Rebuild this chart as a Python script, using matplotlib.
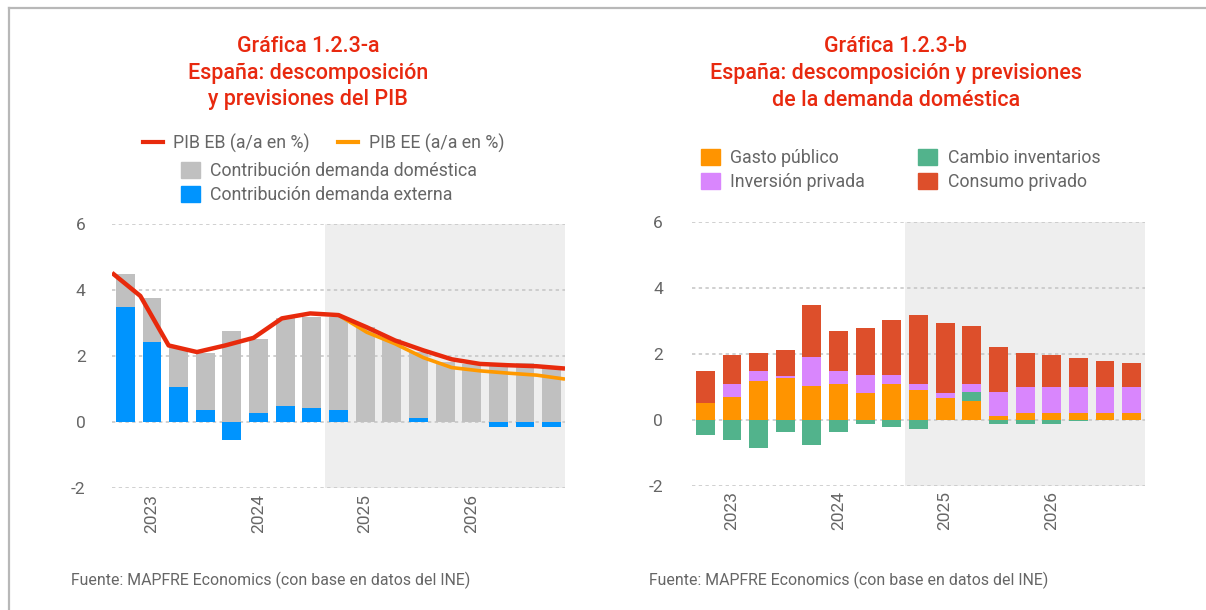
import matplotlib
matplotlib.use("Agg")
import matplotlib.pyplot as plt
from matplotlib.lines import Line2D
from matplotlib.patches import Patch
import numpy as np

plt.rcParams['font.family'] = ['Roboto', 'DejaVu Sans']

# ---------------- data ----------------
quarters = ["2022T4", "2023T1", "2023T2", "2023T3", "2023T4", "2024T1", "2024T2", "2024T3",
            "2024T4", "2025T1", "2025T2", "2025T3", "2025T4", "2026T1", "2026T2", "2026T3", "2026T4"]
year_ticks = ["2023", "2024", "2025", "2026"]
year_tick_quarters = ["2023T1", "2024T1", "2025T1", "2026T1"]
forecast_start = "2024T4"

# Chart a
dem_domestica = [1.02, 1.35, 1.17, 1.74, 2.75, 2.25, 2.64, 2.78, 2.82, 2.87, 2.52, 2.01, 1.82, 1.75, 1.72, 1.78, 1.66]
dem_externa = [3.47, 2.42, 1.07, 0.35, -0.55, 0.26, 0.50, 0.41, 0.35, 0.0, 0.0, 0.11, 0.0, 0.0, -0.15, -0.15, -0.15]
pib_eb = [4.52, 3.82, 2.32, 2.12, 2.32, 2.55, 3.14, 3.29, 3.24, 2.87, 2.47, 2.17, 1.90, 1.76, 1.72, 1.69, 1.62]
pib_ee = [np.nan] * 8 + [3.24, 2.72, 2.37, 1.95, 1.65, 1.55, 1.48, 1.42, 1.30]

# Chart b
gasto_publico = [0.52, 0.68, 1.17, 1.25, 1.01, 1.07, 0.82, 1.07, 0.91, 0.67, 0.58, 0.10, 0.19, 0.19, 0.19, 0.19, 0.19]
cambio_inventarios = [-0.46, -0.62, -0.86, -0.38, -0.77, -0.38, -0.14, -0.23, -0.29, 0.0, 0.27, -0.14, -0.14, -0.14, -0.05, 0.0, 0.0]
inversion_privada = [0.0, 0.39, 0.32, 0.07, 0.88, 0.42, 0.52, 0.27, 0.16, 0.15, 0.24, 0.75, 0.81, 0.81, 0.81, 0.81, 0.81]
consumo_privado = [0.97, 0.90, 0.54, 0.80, 1.59, 1.20, 1.44, 1.68, 2.11, 2.11, 1.74, 1.36, 1.03, 0.97, 0.88, 0.79, 0.73]

# ---------------- style ----------------
RED_T = "#e8290f"
GRAY_T = "#666666"
C_DOM = "#c0c0c0"
C_EXT = "#0094fe"
C_EB = "#e82a0c"
C_EE = "#ff9900"
C_GASTO = "#ff9400"
C_INV = "#d986fd"
C_CAMB = "#52b38c"
C_CONS = "#dd4f2b"
SHADE = "#eeeeee"

W, H = 1206, 610
fig = plt.figure(figsize=(W / 100, H / 100), dpi=100)


def fx(px):
    return px / W


def fy(py):
    return 1 - py / H


# border lines
fig.add_artist(Line2D([fx(9), fx(9)], [fy(8), 0], color="#b8b8b8", lw=1.6))
fig.add_artist(Line2D([fx(9), 1], [fy(8), fy(8)], color="#b8b8b8", lw=1.6))

x = np.arange(len(quarters))
bw = 0.71
fs_idx = quarters.index(forecast_start)
tick_pos = [quarters.index(q) for q in year_tick_quarters]


def style_axes(ax, ypad):
    ax.set_xlim(-0.5, len(quarters) - 0.5)
    ax.set_ylim(-2, 6)
    ax.set_yticks([-2, 0, 2, 4, 6])
    ax.set_yticklabels(["-2", "0", "2", "4", "6"])
    ax.set_xticks(tick_pos)
    ax.set_xticklabels(year_ticks, rotation=90, va="top")
    for s in ax.spines.values():
        s.set_visible(False)
    ax.tick_params(length=0, labelsize=12.5, colors=GRAY_T)
    ax.tick_params(axis="y", pad=ypad)
    ax.tick_params(axis="x", pad=4)
    ax.set_axisbelow(True)
    ax.yaxis.grid(True, color="#c4c4c4", linestyle=(0, (2.2, 2.2)), linewidth=1.1, zorder=0.5)
    ax.axvspan(fs_idx - 0.5, len(quarters) - 0.5, color=SHADE, zorder=0, lw=0)


TFS = 15.5
LFS = 12.8

# ---------------- chart a ----------------
axa = fig.add_axes([fx(112), fy(488), fx(565 - 112), fy(224) - fy(488)])
style_axes(axa, 19)
dom = np.array(dem_domestica)
ext = np.array(dem_externa)
bottom_dom = np.where(ext > 0, ext, 0)
axa.bar(x, ext, width=bw, color=C_EXT, zorder=2)
axa.bar(x, dom, bottom=bottom_dom, width=bw, color=C_DOM, zorder=2)

axl = axa.twiny()
axl.set_xlim(0, len(quarters) - 1)
axl.set_ylim(-2, 6)
axl.axis("off")
axl.plot(np.arange(len(quarters)), pib_ee, color=C_EE, lw=2.6, zorder=3, solid_capstyle="butt")
axl.plot(np.arange(len(quarters)), pib_eb, color=C_EB, lw=3.2, zorder=4, solid_capstyle="butt")

for i, t in enumerate(["Gráfica 1.2.3-a", "España: descomposición", "y previsiones del PIB"]):
    fig.text(fx(308), fy(46 + 27 * i), t, color=RED_T, fontsize=TFS, ha="center", va="center",
             fontweight="medium")

leg1 = fig.legend(handles=[Line2D([], [], color=C_EB, lw=3), Line2D([], [], color=C_EE, lw=3)],
                  labels=["PIB EB (a/a en %)", "PIB EE (a/a en %)"], ncol=2,
                  loc="center left", bbox_to_anchor=(fx(143), fy(143)), frameon=False,
                  fontsize=LFS, labelcolor=GRAY_T, handlelength=1.1, handletextpad=0.6,
                  columnspacing=1.6, borderaxespad=0, borderpad=0)
leg2 = fig.legend(handles=[Patch(color=C_DOM), Patch(color=C_EXT)],
                  labels=["Contribución demanda doméstica", "Contribución demanda externa"], ncol=1,
                  loc="upper left", bbox_to_anchor=(fx(181), fy(162)), frameon=False,
                  fontsize=LFS, labelcolor=GRAY_T, handlelength=1.05, handleheight=1.05,
                  handletextpad=0.6, labelspacing=0.3, borderaxespad=0, borderpad=0)

fig.text(fx(71), fy(580), "Fuente: MAPFRE Economics (con base en datos del INE)", color=GRAY_T,
         fontsize=11.4, ha="left", va="center")

# ---------------- chart b ----------------
axb = fig.add_axes([fx(692), fy(485.7), fx(1145 - 692), fy(221.7) - fy(485.7)])
style_axes(axb, 21)
series = [(gasto_publico, C_GASTO), (cambio_inventarios, C_CAMB), (inversion_privada, C_INV), (consumo_privado, C_CONS)]
pos_base = np.zeros(len(quarters))
neg_base = np.zeros(len(quarters))
for vals, col in series:
    v = np.array(vals)
    b = np.where(v >= 0, pos_base, neg_base)
    axb.bar(x, v, bottom=b, width=bw, color=col, zorder=2)
    pos_base = pos_base + np.where(v > 0, v, 0)
    neg_base = neg_base + np.where(v < 0, v, 0)

for i, t in enumerate(["Gráfica 1.2.3-b", "España: descomposición y previsiones", "de la demanda doméstica"]):
    fig.text(fx(896), fy(46 + 27 * i), t, color=RED_T, fontsize=TFS, ha="center", va="center",
             fontweight="medium")

leg3 = fig.legend(handles=[Patch(color=C_GASTO), Patch(color=C_INV), Patch(color=C_CAMB), Patch(color=C_CONS)],
                  labels=["Gasto público", "Inversión privada", "Cambio inventarios", "Consumo privado"], ncol=2,
                  loc="upper left", bbox_to_anchor=(fx(701), fy(149)), frameon=False,
                  fontsize=LFS, labelcolor=GRAY_T, handlelength=1.05, handleheight=1.05,
                  handletextpad=0.6, labelspacing=0.3, columnspacing=3.0, borderaxespad=0, borderpad=0)

fig.text(fx(649), fy(580), "Fuente: MAPFRE Economics (con base en datos del INE)", color=GRAY_T,
         fontsize=11.4, ha="left", va="center")

fig.savefig("out.png", dpi=100)
